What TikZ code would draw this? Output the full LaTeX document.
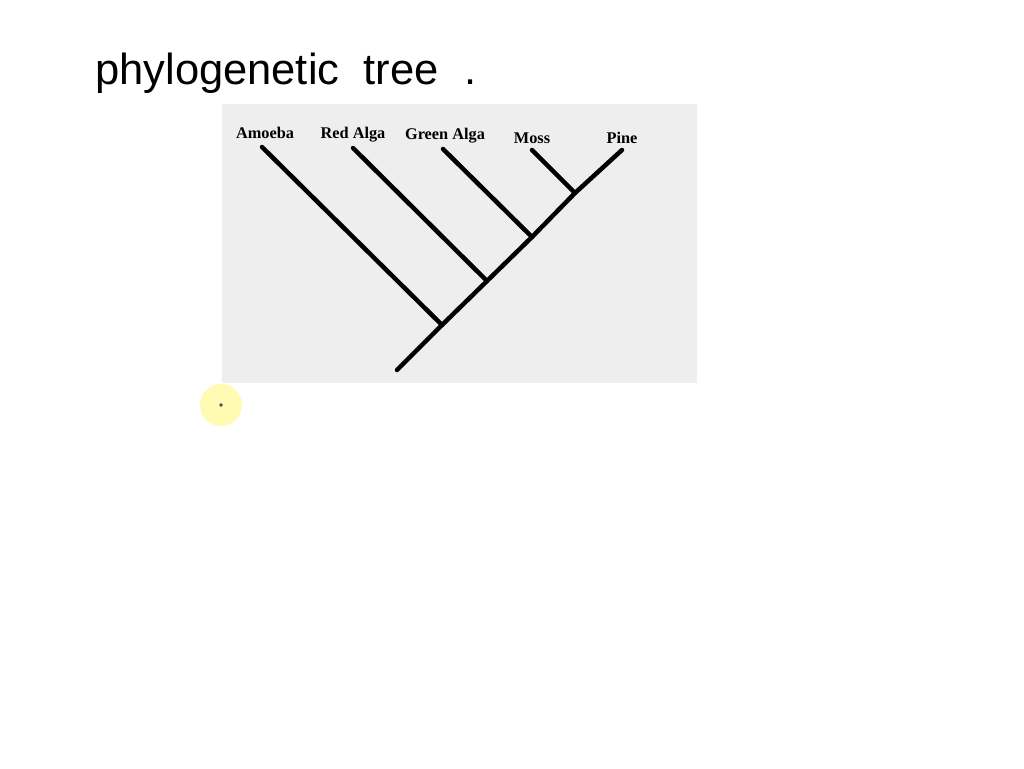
\documentclass[tikz,border=0pt]{standalone}
\usepackage{fontspec}
\setmainfont{Liberation Serif}
\newfontfamily\handfont{Liberation Sans}
\usepackage{tikz}
\usetikzlibrary{positioning}
\tikzset{>=stealth}
\tikzset{taxon/.style={font=\bfseries\fontsize{16.3}{16.3}\selectfont}}

\begin{document}
\begin{tikzpicture}[x=1pt, y=-1pt, line width=4.5pt, line cap=round]

            \useasboundingbox (0,0) rectangle (1024,768);
            \fill[white] (0,0) rectangle (1024,768);

            % photo of the printed page
            \fill[gray!13] (222,104) rectangle (697,383);

            \node[anchor=base west, inner sep=0pt] (title) at (93,84)
                {\handfont\fontsize{43.5}{43.5}\selectfont phylogenetic\hspace{24pt}tree\hspace{26pt}.};

            \node[taxon] (A) at (265,133) {Amoeba};
            \node[taxon] (B) at (353,135) {Red Alga};
            \node[taxon] (C) at (445,136) {Green Alga};
            \node[taxon] (D) at (532,138) {Moss};
            \node[taxon] (E) at (622,138) {Pine};

            \coordinate (tA) at (262,147);
            \coordinate (tB) at (353,148);
            \coordinate (tC) at (443,149);
            \coordinate (tD) at (532,150);
            \coordinate (tE) at (622,150);

            \coordinate (jD) at (575,193);
            \coordinate (jC) at (532,237);
            \coordinate (jB) at (487,281);
            \coordinate (jA) at (442,325);
            \coordinate (root) at (397,370);

            \draw (root)--(jA);
            \draw (jA)--(jB);
            \draw (jB)--(jC);
            \draw (jC)--(jD);
            \draw (jD)--(tE);
            \draw (tA)--(jA);
            \draw (tB)--(jB);
            \draw (tC)--(jC);
            \draw (tD)--(jD);

            % pointer
            \node[circle, fill=yellow!30, minimum size=42pt, inner sep=0pt] (ptr) at (221,405) {};
            \fill[black!70] (ptr.center) circle (1.8pt);
            \end{tikzpicture}
\end{document}
